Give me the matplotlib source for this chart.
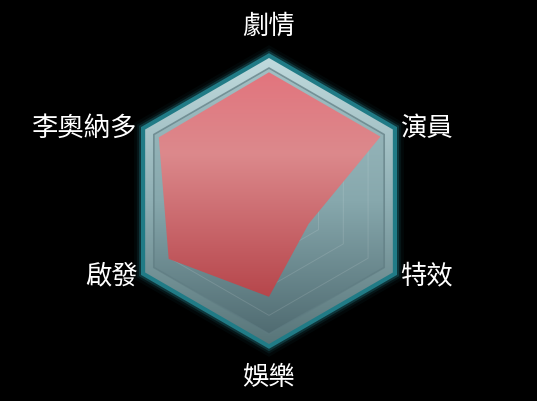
import matplotlib
matplotlib.use("Agg")
import matplotlib.pyplot as plt
import numpy as np
from matplotlib.colors import LinearSegmentedColormap
from matplotlib.patches import Polygon

plt.rcParams['font.family'] = ['Noto Sans CJK TC', 'DejaVu Sans']

# radar data (scale 0-10, outer frame = 10)
categories = ["劇情", "演員", "特效", "娛樂", "啟發", "李奧納多"]
scores = [9.0, 9.0, 3.2, 6.7, 8.1, 8.9]
grid_levels = [2, 4, 6, 8]
max_score = 10

# axes go clockwise starting at the top
angles = np.pi / 2 - np.arange(len(categories)) * 2 * np.pi / len(categories)


def hexagon(r):
    r = np.broadcast_to(r, angles.shape)
    return np.column_stack([r * np.cos(angles), r * np.sin(angles)])


fig = plt.figure(figsize=(5.37, 4.02), dpi=100, facecolor="black")
ax = fig.add_axes([0, 0, 1, 1])
ax.set_facecolor("black")
ax.axis("off")

grad = np.linspace(0, 1, 256).reshape(-1, 1)
ext = [-max_score, max_score, -max_score, max_score]

# outer glow of the frame (drawn under the bevel)
for w, a in [(16, 0.06), (12, 0.12), (9, 0.3), (6, 0.9)]:
    ax.add_patch(Polygon(hexagon(max_score), closed=True, fill=False, zorder=1,
                         edgecolor="#23838f", lw=w, alpha=a, joinstyle="miter"))

# bevel
bevel_cmap = LinearSegmentedColormap.from_list("bevel", ["#c0dadd", "#8fafb4", "#587579"])
outer = Polygon(hexagon(max_score), closed=True, facecolor="none", edgecolor="none")
ax.add_patch(outer)
im = ax.imshow(grad, cmap=bevel_cmap, extent=ext, aspect="auto",
               interpolation="bilinear", zorder=2)
im.set_clip_path(outer)

# face
face_cmap = LinearSegmentedColormap.from_list("face", ["#a3c1c5", "#87a8ad", "#4c676d"])
face = Polygon(hexagon(max_score * 0.93), closed=True, facecolor="none", edgecolor="none")
ax.add_patch(face)
im = ax.imshow(grad, cmap=face_cmap, extent=ext, aspect="auto",
               interpolation="bilinear", zorder=3)
im.set_clip_path(face)
ax.add_patch(Polygon(hexagon(max_score * 0.93), closed=True, fill=False, zorder=3.5,
                     edgecolor="#5f7c82", lw=1.2, alpha=0.7))

# grid rings
for lv in grid_levels:
    ring = hexagon(lv)
    ax.plot(np.append(ring[:, 0], ring[0, 0]), np.append(ring[:, 1], ring[0, 1]),
            color="white", lw=0.7, alpha=0.12, zorder=4)

# score area
red_cmap = LinearSegmentedColormap.from_list("red", ["#e3717b", "#dc898c", "#c35c61", "#a93136"])
area = Polygon(hexagon(np.array(scores)), closed=True, facecolor="none", edgecolor="none")
ax.add_patch(area)
im = ax.imshow(grad, cmap=red_cmap, extent=ext, aspect="auto",
               interpolation="bilinear", zorder=5)
im.set_clip_path(area)

# labels
for ang, name in zip(angles, categories):
    c, s = np.cos(ang), np.sin(ang)
    if abs(c) < 0.01:
        ax.text(0, 12.3 * np.sign(s), name, color="white", fontsize=19,
                ha="center", va="center", zorder=6)
    else:
        ax.text(10.6 * c, 10.3 * s, name, color="white", fontsize=19,
                ha="left" if c > 0 else "right", va="center", zorder=6)

scale = 14.3  # pixels per unit
ax.set_xlim(-269 / scale, (537 - 269) / scale)
ax.set_ylim(-(402 - 202) / scale, 202 / scale)

fig.savefig("out.png", dpi=100, facecolor="black")
